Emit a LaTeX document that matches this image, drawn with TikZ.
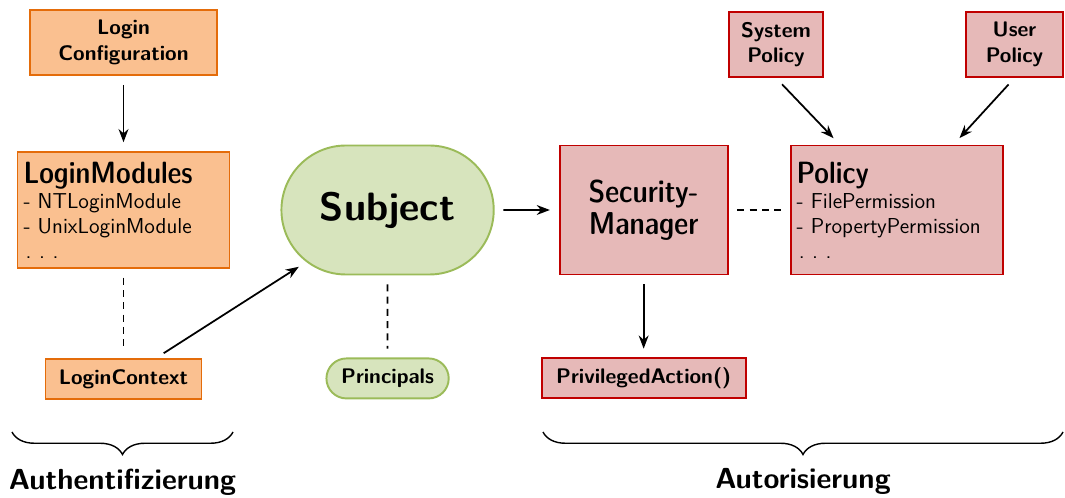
\documentclass[tikz,border=0pt]{standalone}
\usepackage{tikz}
\usetikzlibrary{shapes.misc, arrows.meta, positioning, decorations.pathreplacing}

\definecolor{authfill}{HTML}{FAC090}
\definecolor{authline}{HTML}{E46C0A}
\definecolor{subjfill}{HTML}{D7E4BD}
\definecolor{subjline}{HTML}{9BBB59}
\definecolor{permfill}{HTML}{E6B9B8}
\definecolor{permline}{HTML}{C00000}

\newcommand{\pdots}{\hspace{0.1em}.\hspace{0.35em}.\hspace{0.35em}.}

\begin{document}
\begin{tikzpicture}[
	  font=\sffamily,
	  labelfont/.style={font=\sffamily\bfseries\fontsize{12}{14.5}\selectfont},
	  authbox/.style={rectangle, draw=authline, fill=authfill, line width=1.1pt, align=center, labelfont},
	  permbox/.style={rectangle, draw=permline, fill=permfill, line width=1.1pt, align=center, labelfont},
	  subjbox/.style={rounded rectangle, draw=subjline, fill=subjfill, line width=1.1pt, labelfont},
	  listbox/.style={align=left, text width=4cm, inner sep=0.12cm, font=\sffamily\fontsize{12.3}{14.2}\selectfont},
	  arrow/.style={line width=1pt, ->, >=Stealth, shorten >=5pt, shorten <=5pt},
	  link/.style={line width=1pt, dash pattern=on 4pt off 3pt, shorten >=5pt, shorten <=5pt},
	  brace/.style={thick, decorate, decoration={brace, mirror, amplitude=0.45cm}},
	  partfont/.style={font=\sffamily\bfseries\fontsize{16.5}{19}\selectfont}
	]

	\useasboundingbox (0,0) rectangle (21.3,9.96);

	% Authentifizierung
	\node (loginmod) [authbox, listbox, minimum height=2.32cm] at (2.47,5.76) {{\fontseries{sbc}\fontsize{17.5}{20}\selectfont LoginModules}\\- NTLoginModule\\- UnixLoginModule\\\pdots};
	\node (loginconf) [authbox, minimum width=3.74cm, minimum height=1.3cm, above=1.5cm of loginmod] {Login\\Configuration};
	\node (loginctx) [authbox, minimum width=3.12cm, minimum height=0.8cm, below=1.78cm of loginmod] {LoginContext};

	% Subject
	\node (subject) [subjbox, minimum width=4.48cm, minimum height=2.58cm, right=1cm of loginmod, font=\sffamily\bfseries\fontsize{22.5}{26}\selectfont] {Subject};
	\node (principals) [subjbox, minimum width=2.68cm, minimum height=0.8cm, below=1.64cm of subject] {Principals};

	% Autorisierung
	\node (secmgr) [permbox, minimum width=3.36cm, minimum height=2.58cm, right=1.28cm of subject, font=\sffamily\fontseries{sbc}\fontsize{18}{18.2}\selectfont] {Security-\\Manager};
	\node (policy) [permbox, listbox, minimum height=2.58cm, right=1.22cm of secmgr] {{\fontseries{sbc}\fontsize{17.5}{20}\selectfont Policy}\\- FilePermission\\- PropertyPermission\\\pdots};
	\node (privact) [permbox, minimum width=4.08cm, minimum height=0.8cm, below=1.64cm of secmgr] {PrivilegedAction()};
	\node (syspol) [permbox, minimum width=1.88cm, minimum height=1.3cm] at (15.52,9.07) {System\\Policy};
	\node (usrpol) [permbox, minimum width=1.94cm, minimum height=1.3cm] at (20.29,9.07) {User\\Policy};

	\draw [arrow] (loginconf) -- (loginmod);
	\draw [link] (loginmod) -- (loginctx);
	\draw [arrow] (loginctx) -- (subject);
	\draw [link] (subject) -- (principals);
	\draw [arrow] (subject) -- (secmgr);
	\draw [link] (secmgr) -- (policy);
	\draw [arrow] (secmgr) -- (privact);
	\draw [arrow] (syspol.south) -- ([xshift=1cm]policy.north west);
	\draw [arrow] (usrpol.south) -- ([xshift=-1cm]policy.north east);

	% Klammern
	\coordinate (authl) at (0.24,1.32);
	\coordinate (authr) at (4.66,1.32);
	\coordinate (autzl) at (10.86,1.32);
	\coordinate (autzr) at (21.26,1.32);
	\draw [brace] (authl) -- node[below=0.6cm, partfont] {Authentifizierung} (authr);
	\draw [brace] (autzl) -- node[below=0.6cm, partfont] {Autorisierung} (autzr);

	\end{tikzpicture}
\end{document}
